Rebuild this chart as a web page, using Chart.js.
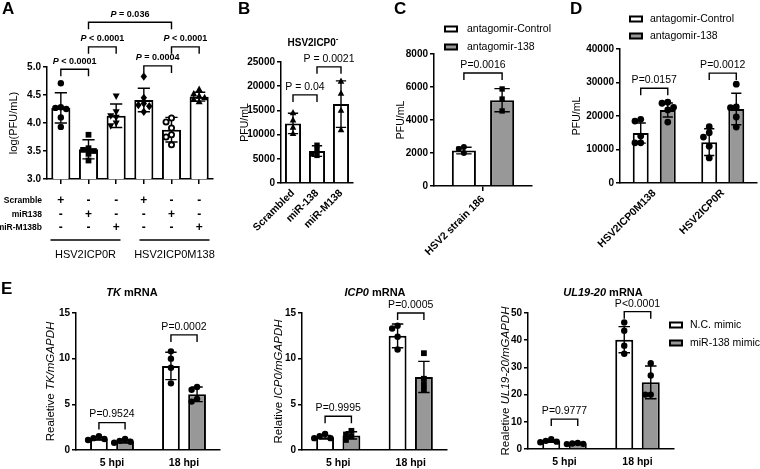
<!DOCTYPE html>
<html>
<head>
<meta charset="utf-8">
<script src="https://cdn.jsdelivr.net/npm/chart.js@4.4.0/dist/chart.umd.min.js"></script>
<style>
  html, body { margin: 0; padding: 0; background: #fff; }
  #wrap { position: relative; width: 760px; height: 469px; overflow: hidden; font-family: "Liberation Sans", Arial, sans-serif; }
  #wrap canvas { position: absolute; left: 0; top: 0; }
  .tag { position: absolute; font-weight: bold; font-size: 17px; line-height: 17px; color: #000; }
</style>
</head>
<body>
<div id="wrap">
  <canvas id="cA" width="760" height="469"></canvas>
  <canvas id="cB" width="760" height="469"></canvas>
  <canvas id="cC" width="760" height="469"></canvas>
  <canvas id="cD" width="760" height="469"></canvas>
  <canvas id="cE1" width="760" height="469"></canvas>
  <canvas id="cE2" width="760" height="469"></canvas>
  <canvas id="cE3" width="760" height="469"></canvas>
  <div class="tag" style="left:2px;top:0px">A</div>
  <div class="tag" style="left:238px;top:0px">B</div>
  <div class="tag" style="left:394px;top:0px">C</div>
  <div class="tag" style="left:570px;top:0px">D</div>
  <div class="tag" style="left:1px;top:280px">E</div>
</div>
<script>
// ---- data ----
// A
const aScramble = ['+', '-', '-', '+', '-', '-'];
const aMiR138 = ['-', '+', '-', '-', '+', '-'];
const aMiRM138b = ['-', '-', '+', '-', '-', '+'];
const aRowNames = ['Scramble', 'miR138', 'miR-M138b'];
const aGroupNames = ['HSV2ICP0R', 'HSV2ICP0M138'];
const aMeans = [4.27, 3.53, 4.13, 4.41, 3.88, 4.47];
const aSD = [0.27, 0.17, 0.21, 0.21, 0.22, 0.08];
const aPoints = [
  [4.71, 4.28, 4.27, 4.25, 4.10, 3.93],
  [3.79, 3.55, 3.52, 3.50, 3.45, 3.33],
  [4.48, 4.20, 4.13, 4.10, 4.00, 3.95],
  [4.83, 4.45, 4.35, 4.32, 4.30, 4.20],
  [4.09, 4.02, 3.91, 3.79, 3.75, 3.61],
  [4.60, 4.52, 4.48, 4.45, 4.42, 4.38]
];
const aPvals = ['< 0.0001', '< 0.0001', '= 0.036', '= 0.0004', '< 0.0001'];

// B
const bLabels = ['Scrambled', 'miR-138', 'miR-M138'];
const bMeans = [12300, 6600, 16300];
const bSD = [2100, 1100, 4800];
const bPoints = [
  [14500, 13000, 11500, 10200],
  [7800, 6800, 6000, 5700],
  [21000, 18500, 15000, 11000]
];
const bPvals = ['P = 0.04', 'P = 0.0021'];

// C
const cLabels = ['HSV2 strain 186'];
const cControl = [2150];
const cAnta = [5200];
const cControlSD = [200];
const cAntaSD = [700];
const cControlPts = [[2360, 2250, 2000]];
const cAntaPts = [[5880, 5270, 4550]];

// D
const dLabels = ['HSV2ICP0M138', 'HSV2ICP0R'];
const dControl = [14900, 12200];
const dAnta = [21800, 22100];
const dControlSD = [3000, 4000];
const dAntaSD = [2100, 4700];
const dControlPts = [[19000, 18500, 14000, 12000, 12000], [16800, 15000, 13700, 11000, 7500]];
const dAntaPts = [[24100, 23800, 22600, 21800, 18200], [29500, 22700, 22500, 19700, 16700]];
const dPvals = ['P=0.0157', 'P=0.0012'];
const legendAnta = ['antagomir-Control', 'antagomir-138'];

// E
const eLabels = ['5 hpi', '18 hpi'];
const legendMimic = ['N.C. mimic', 'miR-138 mimic'];
const tkNC = [1.25, 9.2], tkMiR = [0.95, 6.1];
const tkNCSD = [0.15, 1.5], tkMiRSD = [0.2, 0.8];
const tkNCPts = [[1.5, 1.3, 1.2, 1.1], [10.8, 10.0, 9.0, 7.3]];
const tkMiRPts = [[1.2, 1.0, 0.9, 0.8], [6.9, 6.6, 5.6, 5.3]];
const tkPvals = ['P=0.9524', 'P=0.0002'];

const icpNC = [1.4, 12.5], icpMiR = [1.6, 8.0];
const icpNCSD = [0.2, 1.3], icpMiRSD = [0.4, 1.7];
const icpNCPts = [[1.75, 1.5, 1.3, 1.3], [13.6, 13.3, 12.4, 11.0]];
const icpMiRPts = [[2.1, 1.7, 1.5, 1.1], [10.6, 7.8, 7.2, 6.6]];
const icpPvals = ['P=0.9995', 'P=0.0005'];

const ulNC = [2.9, 40.2], ulMiR = [2.0, 24.5];
const ulNCSD = [0.4, 4.8], ulMiRSD = [0.2, 6.0];
const ulNCPts = [[3.6, 3.0, 2.7, 2.5], [46.5, 43.5, 38.0, 35.0]];
const ulMiRPts = [[2.2, 2.0, 1.9, 1.8], [31.5, 27.0, 20.0, 20.0]];
const ulPvals = ['P=0.9777', 'P<0.0001'];

// ---- drawing helpers ----
const F = '"Liberation Sans", Arial, sans-serif';
const W = 760, H = 469;
const GREY = '#989898';
const fnt = (size, weight, style) => `${style || 'normal'} ${weight || 'normal'} ${size}px ${F}`;

function runText(ctx, segs, x, y, align) {
  let w = 0;
  segs.forEach(s => { ctx.font = s[1]; w += ctx.measureText(s[0]).width; });
  let cx = align === 'center' ? x - w / 2 : align === 'right' ? x - w : x;
  segs.forEach(s => {
    ctx.font = s[1];
    ctx.fillText(s[0], cx, y + (s[2] || 0));
    cx += ctx.measureText(s[0]).width;
  });
}

function drawMark(ctx, shape, x, y, r) {
  ctx.beginPath();
  if (shape === 'square') ctx.rect(x - r * 0.9, y - r * 0.9, r * 1.8, r * 1.8);
  else if (shape === 'tri') { ctx.moveTo(x, y - r * 1.25); ctx.lineTo(x + r * 1.1, y + r * 0.8); ctx.lineTo(x - r * 1.1, y + r * 0.8); }
  else if (shape === 'tridown') { ctx.moveTo(x, y + r * 1.25); ctx.lineTo(x + r * 1.1, y - r * 0.8); ctx.lineTo(x - r * 1.1, y - r * 0.8); }
  else if (shape === 'diamond') { ctx.moveTo(x, y - r * 1.3); ctx.lineTo(x + r, y); ctx.lineTo(x, y + r * 1.3); ctx.lineTo(x - r, y); }
  else if (shape === 'ring') ctx.arc(x, y, r - 0.6, 0, Math.PI * 2);
  else ctx.arc(x, y, r, 0, Math.PI * 2);
  ctx.closePath();
  if (shape === 'ring') {
    ctx.fillStyle = '#fff'; ctx.fill();
    ctx.lineWidth = 1.8; ctx.stroke();
    ctx.fillStyle = '#000';
  } else {
    ctx.fill();
  }
}

// place points in a small swarm so they do not pile up
function swarm(vals, ys, cx, r) {
  const placed = [];
  const steps = [0, -1, 1, -2, 2, -3, 3];
  return vals.map(v => {
    const py = ys.getPixelForValue(v);
    for (const k of steps) {
      const px = cx + k * r * 1.7;
      if (placed.every(p => Math.hypot(p[0] - px, p[1] - py) >= r * 1.6)) {
        placed.push([px, py]);
        return [px, py];
      }
    }
    placed.push([cx, py]);
    return [cx, py];
  });
}

const decorCfg = {};

const decor = {
  id: 'decor',
  afterDraw(chart) {
    const c = decorCfg[chart.canvas.id];
    if (!c) return;
    const ctx = chart.ctx, ys = chart.scales.y, area = chart.chartArea;
    ctx.save();
    ctx.strokeStyle = '#000';
    ctx.fillStyle = '#000';
    ctx.textBaseline = 'middle';
    ctx.textAlign = 'left';

    // error bars
    chart.data.datasets.forEach((ds, d) => {
      const meta = chart.getDatasetMeta(d);
      meta.data.forEach((bar, i) => {
        const m = ds.data[i], s = c.sd[d][i];
        const hi = ys.getPixelForValue(m + s), lo = ys.getPixelForValue(m - s);
        const cap = bar.width * 0.32;
        ctx.lineWidth = 1.4;
        ctx.beginPath();
        ctx.moveTo(bar.x, hi); ctx.lineTo(bar.x, lo);
        ctx.moveTo(bar.x - cap, hi); ctx.lineTo(bar.x + cap, hi);
        ctx.moveTo(bar.x - cap, lo); ctx.lineTo(bar.x + cap, lo);
        ctx.stroke();
      });
    });

    // individual points
    chart.data.datasets.forEach((ds, d) => {
      const meta = chart.getDatasetMeta(d);
      meta.data.forEach((bar, i) => {
        swarm(c.pts[d][i], ys, bar.x, c.r).forEach(p => drawMark(ctx, c.shapes[d][i], p[0], p[1], c.r));
      });
    });

    // significance brackets
    ctx.lineWidth = 1.4;
    (c.brackets || []).forEach(b => {
      const x1 = chart.getDatasetMeta(b.a[0]).data[b.a[1]].x;
      const x2 = chart.getDatasetMeta(b.b[0]).data[b.b[1]].x;
      const y = ys.getPixelForValue(b.v);
      ctx.beginPath();
      ctx.moveTo(x1, y + 7); ctx.lineTo(x1, y); ctx.lineTo(x2, y); ctx.lineTo(x2, y + 7);
      ctx.stroke();
      runText(ctx, b.segs, (x1 + x2) / 2, y - 8, 'center');
    });

    // chart title
    if (c.title) runText(ctx, c.title.segs, c.title.x, c.title.y, 'center');

    // y axis title
    if (c.ytitle) {
      ctx.save();
      ctx.translate(c.ytitle.x, (area.top + area.bottom) / 2 + (c.ytitle.dy || 0));
      ctx.rotate(-Math.PI / 2);
      runText(ctx, c.ytitle.segs, 0, 0, 'center');
      ctx.restore();
    }

    // legend
    (c.legend || []).forEach(it => {
      ctx.fillStyle = it.fill;
      ctx.fillRect(it.x, it.y - 2.5, 12, 5);
      ctx.lineWidth = 2;
      ctx.strokeRect(it.x, it.y - 2.5, 12, 5);
      ctx.fillStyle = '#000';
      ctx.font = fnt(10.5);
      ctx.fillText(it.text, it.x + it.gap, it.y);
    });

    if (c.extra) c.extra(chart, ctx);
    ctx.restore();
  }
};

function yAxis(min, max, step, fmt) {
  return {
    min, max,
    border: { color: '#000', width: 1.5 },
    grid: { drawOnChartArea: false, color: '#000', lineWidth: 1.5, tickLength: 4 },
    ticks: { stepSize: step, color: '#000', padding: 2, font: { family: F, size: 10, weight: 'bold' },
      callback: fmt || (v => String(v)) }
  };
}

function xAxis(o) {
  return {
    border: { color: '#000', width: 1.5 },
    grid: { drawOnChartArea: false, offset: false, color: '#000', lineWidth: 1.5,
      drawTicks: o.tick > 0, tickLength: o.tick || 0 },
    ticks: { color: '#000', autoSkip: false, padding: o.pad, minRotation: o.rot, maxRotation: o.rot,
      font: { family: F, size: o.size, weight: 'bold', lineHeight: o.lh || 1.2 } }
  };
}

// the axis boxes take all the room left of / below the plot area,
// because Chart.js clips tick labels to their axis box
function build(id, box, labels, datasets, xOpt, yOpt, cat, bar) {
  const yw = box.l - 1, xh = H - box.b - 1;
  xOpt.afterFit = s => { s.height = xh; };
  yOpt.afterFit = s => { s.width = yw; };
  return new Chart(document.getElementById(id), {
    type: 'bar',
    data: { labels, datasets },
    options: {
      responsive: false,
      animation: false,
      devicePixelRatio: 1,
      layout: { padding: { left: 1, top: box.t, right: W - box.r, bottom: 1 } },
      datasets: { bar: { categoryPercentage: cat, barPercentage: bar, borderColor: '#000', borderWidth: 2 } },
      plugins: { legend: { display: false }, tooltip: { enabled: false }, title: { display: false } },
      scales: { x: xOpt, y: yOpt }
    },
    plugins: [decor]
  });
}

const pItalic = (rest, size) => [['P', fnt(size, 'bold', 'italic')], [' ' + rest, fnt(size, 'bold')]];
const plain = (t, size) => [[t, fnt(size || 10.5)]];

// ---- A ----
decorCfg.cA = {
  sd: [aSD], pts: [aPoints], r: 3.2,
  shapes: [['circle', 'square', 'tridown', 'diamond', 'ring', 'tri']],
  brackets: [
    { a: [0, 0], b: [0, 1], v: 4.96, segs: pItalic(aPvals[0], 9) },
    { a: [0, 1], b: [0, 2], v: 5.36, segs: pItalic(aPvals[1], 9) },
    { a: [0, 1], b: [0, 4], v: 5.80, segs: pItalic(aPvals[2], 9) },
    { a: [0, 3], b: [0, 4], v: 5.02, segs: pItalic(aPvals[3], 9) },
    { a: [0, 4], b: [0, 5], v: 5.36, segs: pItalic(aPvals[4], 9) }
  ],
  ytitle: { x: 14, segs: [['log(PFU/mL)', fnt(11)]] },
  extra(chart, ctx) {
    const bottom = chart.chartArea.bottom;
    ctx.font = fnt(8.5, 'bold');
    ctx.textAlign = 'right';
    aRowNames.forEach((t, k) => ctx.fillText(t, 42, bottom + 22 + k * 13.5));
    ctx.textAlign = 'center';
    const bars = chart.getDatasetMeta(0).data;
    aGroupNames.forEach((t, g) => {
      const cx = (bars[g * 3].x + bars[g * 3 + 2].x) / 2 - 3 + g * 6;
      ctx.lineWidth = 1.4;
      ctx.beginPath();
      ctx.moveTo(cx - 35, bottom + 61); ctx.lineTo(cx + 35, bottom + 61);
      ctx.stroke();
      ctx.font = fnt(11);
      ctx.fillText(t, cx, bottom + 76);
    });
  }
};
build('cA', { l: 47, t: 67, r: 213, b: 179 },
  aScramble.map((s, i) => [s, aMiR138[i], aMiRM138b[i]]),
  [{ data: aMeans, backgroundColor: '#fff' }],
  xAxis({ tick: 5, pad: 10, rot: 0, size: 12, lh: 1.13 }),
  yAxis(3, 5, 0.5, v => v.toFixed(1)), 1, 0.69);

// ---- B ----
decorCfg.cB = {
  sd: [bSD], pts: [bPoints], r: 3,
  shapes: [['tri', 'square', 'tri']],
  brackets: [
    { a: [0, 0], b: [0, 1], v: 18200, segs: plain(bPvals[0]) },
    { a: [0, 1], b: [0, 2], v: 24000, segs: plain(bPvals[1]) }
  ],
  title: { x: 313, y: 43, segs: [['HSV2ICP0', fnt(10, 'bold')], ['-', fnt(8, 'bold'), -4]] },
  ytitle: { x: 245, segs: [['PFU/mL', fnt(10.5)]] }
};
build('cB', { l: 281, t: 62, r: 353, b: 183 }, bLabels,
  [{ data: bMeans, backgroundColor: '#fff' }],
  xAxis({ tick: 0, pad: 4, rot: 45, size: 10.5 }),
  yAxis(0, 25000, 5000), 1, 0.67);

// ---- C ----
decorCfg.cC = {
  sd: [cControlSD, cAntaSD], pts: [cControlPts, cAntaPts], r: 3,
  shapes: [['circle'], ['square']],
  brackets: [{ a: [0, 0], b: [1, 0], v: 6850, segs: plain('P=0.0016') }],
  ytitle: { x: 401, segs: [['PFU/mL', fnt(10.5)]] },
  legend: [
    { x: 445, y: 29, fill: '#fff', text: legendAnta[0], gap: 22 },
    { x: 445, y: 47, fill: GREY, text: legendAnta[1], gap: 22 }
  ]
};
build('cC', { l: 434, t: 54, r: 532, b: 186 }, cLabels,
  [{ data: cControl, backgroundColor: '#fff' }, { data: cAnta, backgroundColor: GREY }],
  xAxis({ tick: 5, pad: 2, rot: 45, size: 10.5 }),
  yAxis(0, 8000, 2000), 0.78, 0.63);

// ---- D ----
decorCfg.cD = {
  sd: [dControlSD, dAntaSD], pts: [dControlPts, dAntaPts], r: 3.4,
  shapes: [['circle', 'circle'], ['circle', 'circle']],
  brackets: [
    { a: [0, 0], b: [1, 0], v: 28300, segs: plain(dPvals[0]) },
    { a: [0, 1], b: [1, 1], v: 32800, segs: plain(dPvals[1]) }
  ],
  ytitle: { x: 577, segs: [['PFU/mL', fnt(10.5)]] },
  legend: [
    { x: 630, y: 19, fill: '#fff', text: legendAnta[0], gap: 20 },
    { x: 630, y: 36, fill: GREY, text: legendAnta[1], gap: 20 }
  ]
};
build('cD', { l: 620, t: 49, r: 757, b: 183 }, dLabels,
  [{ data: dControl, backgroundColor: '#fff' }, { data: dAnta, backgroundColor: GREY }],
  xAxis({ tick: 0, pad: 4, rot: 45, size: 10.5 }),
  yAxis(0, 40000, 10000), 0.79, 0.59);

// ---- E ----
function ePanel(id, box, nc, mir, ncSD, mirSD, ncPts, mirPts, shapesMiR, pv, bv, max, step, title, ytitle, extra) {
  decorCfg[id] = Object.assign({
    sd: [ncSD, mirSD], pts: [ncPts, mirPts], r: 3.2,
    shapes: [['circle', 'circle'], [shapesMiR, shapesMiR]],
    brackets: [
      { a: [0, 0], b: [1, 0], v: bv[0], segs: plain(pv[0]) },
      { a: [0, 1], b: [1, 1], v: bv[1], segs: plain(pv[1]) }
    ],
    title: title, ytitle: ytitle
  }, extra || {});
  build(id, box, eLabels,
    [{ data: nc, backgroundColor: '#fff' }, { data: mir, backgroundColor: GREY }],
    xAxis({ tick: 0, pad: 7, rot: 0, size: 10.5 }),
    yAxis(0, max, step), 0.726, 0.68);
}

ePanel('cE1', { l: 76, t: 313, r: 220, b: 450 }, tkNC, tkMiR, tkNCSD, tkMiRSD, tkNCPts, tkMiRPts, 'circle',
  tkPvals, [3.0, 12.6], 15, 5,
  { x: 132, y: 293, segs: [['TK', fnt(11, 'bold', 'italic')], [' mRNA', fnt(11, 'bold')]] },
  { x: 51, segs: [['Realetive ', fnt(11.5)], ['TK/mGAPDH', fnt(11.5, 'normal', 'italic')]] });

ePanel('cE2', { l: 302, t: 313, r: 447, b: 450 }, icpNC, icpMiR, icpNCSD, icpMiRSD, icpNCPts, icpMiRPts, 'square',
  icpPvals, [3.7, 15.0], 15, 5,
  { x: 375, y: 293, segs: [['ICP0', fnt(11, 'bold', 'italic')], [' mRNA', fnt(11, 'bold')]] },
  { x: 279, segs: [['Relative ', fnt(11.5)], ['ICP0/mGAPDH', fnt(11.5, 'normal', 'italic')]] });

ePanel('cE3', { l: 528, t: 313, r: 674, b: 449 }, ulNC, ulMiR, ulNCSD, ulMiRSD, ulNCPts, ulMiRPts, 'circle',
  ulPvals, [11.0, 50.5], 50, 10,
  { x: 603, y: 293, segs: [['UL19-20', fnt(11, 'bold', 'italic')], [' mRNA', fnt(11, 'bold')]] },
  { x: 506, segs: [['Realetive ', fnt(11.5)], ['UL19-20/mGAPDH', fnt(11.5, 'normal', 'italic')]] },
  { legend: [
    { x: 670, y: 325, fill: '#fff', text: legendMimic[0], gap: 20 },
    { x: 670, y: 343, fill: GREY, text: legendMimic[1], gap: 20 }
  ] });
</script>
</body>
</html>
